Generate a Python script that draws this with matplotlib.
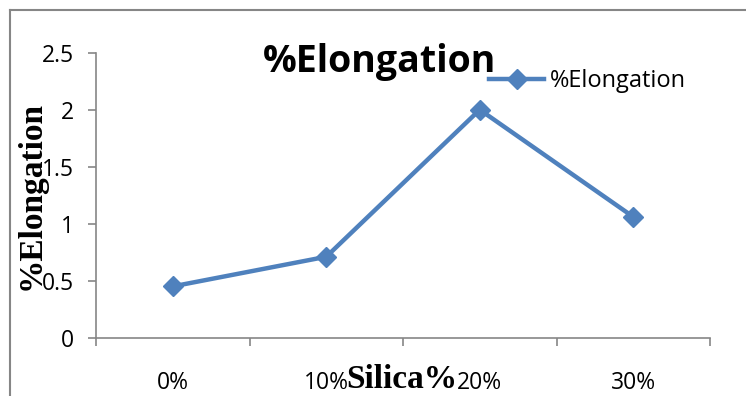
import matplotlib.pyplot as plt
from matplotlib.lines import Line2D

categories = ["0%", "10%", "20%", "30%"]
elongation = [0.45, 0.71, 2.0, 1.06]
y_ticks = [0, 0.5, 1, 1.5, 2, 2.5]
y_tick_labels = ["0", "0.5", "1", "1.5", "2", "2.5"]

W, H = 746, 396
BLUE = "#4F81BD"
GRAY = "#868686"
plt.rcParams["font.family"] = ["Open Sans", "DejaVu Sans"]

fig = plt.figure(figsize=(W / 100, H / 100), dpi=100)
ax = fig.add_axes([96 / W, 1 - 337.7 / H, (710 - 96) / W, (337.7 - 52.7) / H])

x = list(range(len(categories)))
ax.plot(x, elongation, color=BLUE, linewidth=3.2, marker="D", markersize=10.5,
        label="%Elongation", solid_joinstyle="miter")

ax.set_xlim(-0.5, len(categories) - 0.5)
ax.set_ylim(0, 2.5)
ax.set_yticks(y_ticks)
ax.set_yticklabels(y_tick_labels, fontsize=16.5)
ax.set_xticks(x)
ax.set_xticklabels(categories, fontsize=16.5)
ax.set_xticks([i - 0.5 for i in range(len(categories) + 1)], minor=True)
ax.tick_params(axis="x", which="major", length=0, pad=24)
ax.tick_params(axis="x", which="minor", length=6, color=GRAY, width=1.2, direction="out")
ax.tick_params(axis="y", length=6, color=GRAY, width=1.2, pad=10)

for s in ["top", "right"]:
    ax.spines[s].set_visible(False)
for s in ["left", "bottom"]:
    ax.spines[s].set_color(GRAY)
    ax.spines[s].set_linewidth(1.2)

fig.text(380 / W, 1 - 62 / H, "%Elongation", fontsize=27, fontweight="bold",
         ha="center", va="center")
fig.text(402 / W, 1 - 380 / H, "Silica%", fontsize=24, fontweight="bold",
         family=["Liberation Serif"], ha="center", va="center")
fig.text(31 / W, 1 - 195 / H, "%Elongation", fontsize=24, fontweight="bold",
         family=["Liberation Serif"], ha="center", va="center", rotation=90)

ax.legend(loc="center left", bbox_to_anchor=(480 / W, 1 - 81 / H),
          bbox_transform=fig.transFigure, frameon=False, fontsize=17,
          handlelength=2.3, handletextpad=0.25, borderaxespad=0)

# chart frame (top and left edges visible in the crop)
fig.add_artist(Line2D([10 / W, 1], [1 - 10 / H, 1 - 10 / H], transform=fig.transFigure,
                      color=GRAY, linewidth=1.5))
fig.add_artist(Line2D([10 / W, 10 / W], [0, 1 - 10 / H], transform=fig.transFigure,
                      color=GRAY, linewidth=1.5))

fig.savefig("out.png", dpi=100)
